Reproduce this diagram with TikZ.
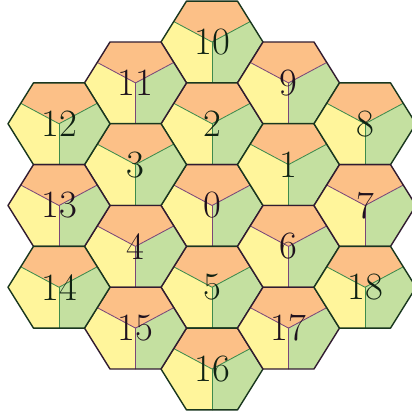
\documentclass[tikz,border=0pt]{standalone}
\usepackage{fontspec}
\usepackage{xcolor}
\definecolor{naranja}{HTML}{FCC087}
\definecolor{amarillo}{HTML}{FFF59B}
\definecolor{verde}{HTML}{C4E0A0}
\definecolor{trazoverde}{HTML}{3E8A4C}
\definecolor{trazovioleta}{HTML}{7A4678}

\tikzset{
  borde/.style={line width=1pt},
  division/.style={line width=0.6pt},
  etiqueta/.style={inner sep=0pt, font=\fontsize{27.5}{30}\selectfont}
}

% celda hexagonal: x, y, numero, color del trazo
\newcommand{\celda}[4]{%
  \begin{scope}[shift={(#1,#2)}]
    \fill[naranja] (0,0) -- (-38.25,-20.45) -- (-25.5,-40.9) -- (25.5,-40.9) -- (38.25,-20.45) -- cycle;
    \fill[amarillo] (0,0) -- (-38.25,-20.45) -- (-51,0) -- (-25.5,40.9) -- (0,40.9) -- cycle;
    \fill[verde] (0,0) -- (0,40.9) -- (25.5,40.9) -- (51,0) -- (38.25,-20.45) -- cycle;
    \draw[#4, division] (-38.25,-20.45) -- (0,0) -- (38.25,-20.45);
    \draw[#4, division] (0,0) -- (0,40.9);
    \draw[#4!40!black, borde] (-51,0) -- (-25.5,-40.9) -- (25.5,-40.9) -- (51,0) -- (25.5,40.9) -- (-25.5,40.9) -- cycle;
    \node[etiqueta, text=#4!25!black] (n#3) at (0,0) {#3};
  \end{scope}}

\begin{document}
\begin{tikzpicture}[x=0.025cm, y=-0.025cm, line cap=round, line join=round]
  \useasboundingbox (0,0) rectangle (412,414);
  \fill[white] (0,0) rectangle (412,414);
  \clip (0,0) rectangle (412,414);

  % columna central
  \celda{212}{42}{10}{trazoverde}
  \celda{212}{123.75}{2}{trazoverde}
  \celda{212}{205.5}{0}{trazovioleta}
  \celda{212}{287.25}{5}{trazoverde}
  \celda{212}{369}{16}{trazoverde}

  % columnas interiores
  \celda{135.5}{82.9}{11}{trazovioleta}
  \celda{135.5}{164.6}{3}{trazoverde}
  \celda{135.5}{246.4}{4}{trazovioleta}
  \celda{135.5}{328.1}{15}{trazovioleta}
  \celda{288.5}{82.9}{9}{trazovioleta}
  \celda{288.5}{164.6}{1}{trazoverde}
  \celda{288.5}{246.4}{6}{trazovioleta}
  \celda{288.5}{328.1}{17}{trazovioleta}

  % columnas exteriores
  \celda{59}{123.75}{12}{trazoverde}
  \celda{59}{205.5}{13}{trazovioleta}
  \celda{59}{287.25}{14}{trazoverde}
  \celda{365}{123.75}{8}{trazoverde}
  \celda{365}{205.5}{7}{trazovioleta}
  \celda{365}{287.25}{18}{trazoverde}
\end{tikzpicture}
\end{document}
